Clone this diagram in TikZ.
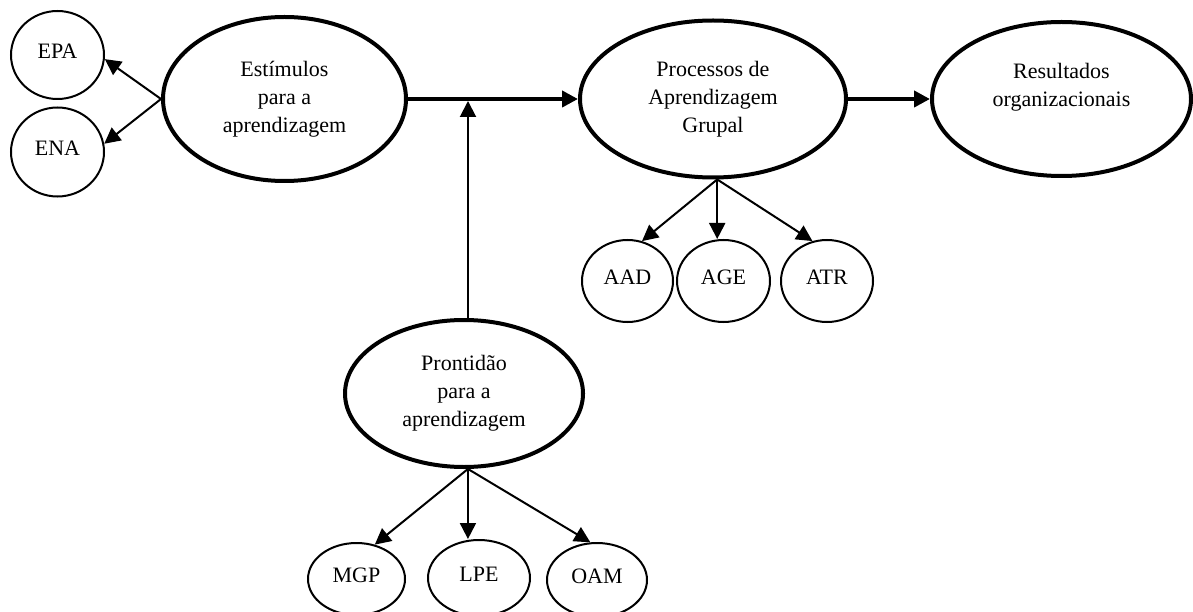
\documentclass[tikz,border=0pt]{standalone}
\usepackage{fontspec}
\setmainfont{Liberation Serif}
\usetikzlibrary{shapes.geometric,arrows.meta,calc}
\tikzset{
  big/.style={ellipse, draw, line width=4pt, inner sep=0pt, align=center, font=\fontsize{22}{28}\selectfont},
  small/.style={ellipse, draw, line width=2pt, inner sep=0pt, text depth=8pt, align=center, font=\fontsize{22}{28}\selectfont},
  arr/.style={-{Triangle[length=16pt,width=16pt]}, line width=2pt},
  bigarr/.style={-{Triangle[length=16pt,width=16pt]}, line width=4pt}
}
\begin{document}
\begin{tikzpicture}[x=1pt,y=-1pt]
\useasboundingbox (0,0) rectangle (1193,612);
% main ellipses
\node[big, minimum width=243pt, minimum height=164pt] (est) at (284.5,99) {Estímulos\\para a\\aprendizagem};
\node[big, minimum width=266pt, minimum height=157pt] (proc) at (713,99) {Processos de\\Aprendizagem\\Grupal};
\node[big, minimum width=259pt, minimum height=154pt] (res) at (1061.5,99) {Resultados\\organizacionais\\\mbox{}};
\node[big, minimum width=238pt, minimum height=147pt] (pront) at (464,393.5) {Prontidão\\para a\\aprendizagem};
% small circles
\node[small, minimum width=93pt, minimum height=88pt] (EPA) at (57.5,55) {EPA};
\node[small, minimum width=93pt, minimum height=89pt] (ENA) at (57.5,152) {ENA};
\node[small, minimum width=91pt, minimum height=82pt] (AAD) at (627.5,281) {AAD};
\node[small, minimum width=93pt, minimum height=82pt] (AGE) at (723.5,281) {AGE};
\node[small, minimum width=92pt, minimum height=82pt] (ATR) at (827,281) {ATR};
\node[small, minimum width=97pt, minimum height=72pt] (MGP) at (356.5,579) {MGP};
\node[small, minimum width=102pt, minimum height=76pt] (LPE) at (479,578) {LPE};
\node[small, minimum width=100pt, minimum height=74pt] (OAM) at (597,580) {OAM};
% junction on main line
\coordinate (j) at (468,101);
% connectors
\draw[arr] (est.west) -- (EPA.-5);
\draw[arr] (est.west) -- (ENA.10);
\draw[bigarr] (est.east) -- (proc.west);
\draw[bigarr] (proc.east) -- (res.west);
\draw[arr] (j |- pront.north) -- (j);
\draw[arr] (proc.-87) -- (AAD.70);
\draw[arr] (proc.-87) -- (AGE.north -| proc.-87);
\draw[arr] (proc.-87) -- (ATR.110);
\draw[arr] (pront.-87) -- (MGP.62);
\draw[arr] (pront.-87) -- (LPE.north -| pront.-87);
\draw[arr] (pront.-87) -- (OAM.100);
\end{tikzpicture}
\end{document}
